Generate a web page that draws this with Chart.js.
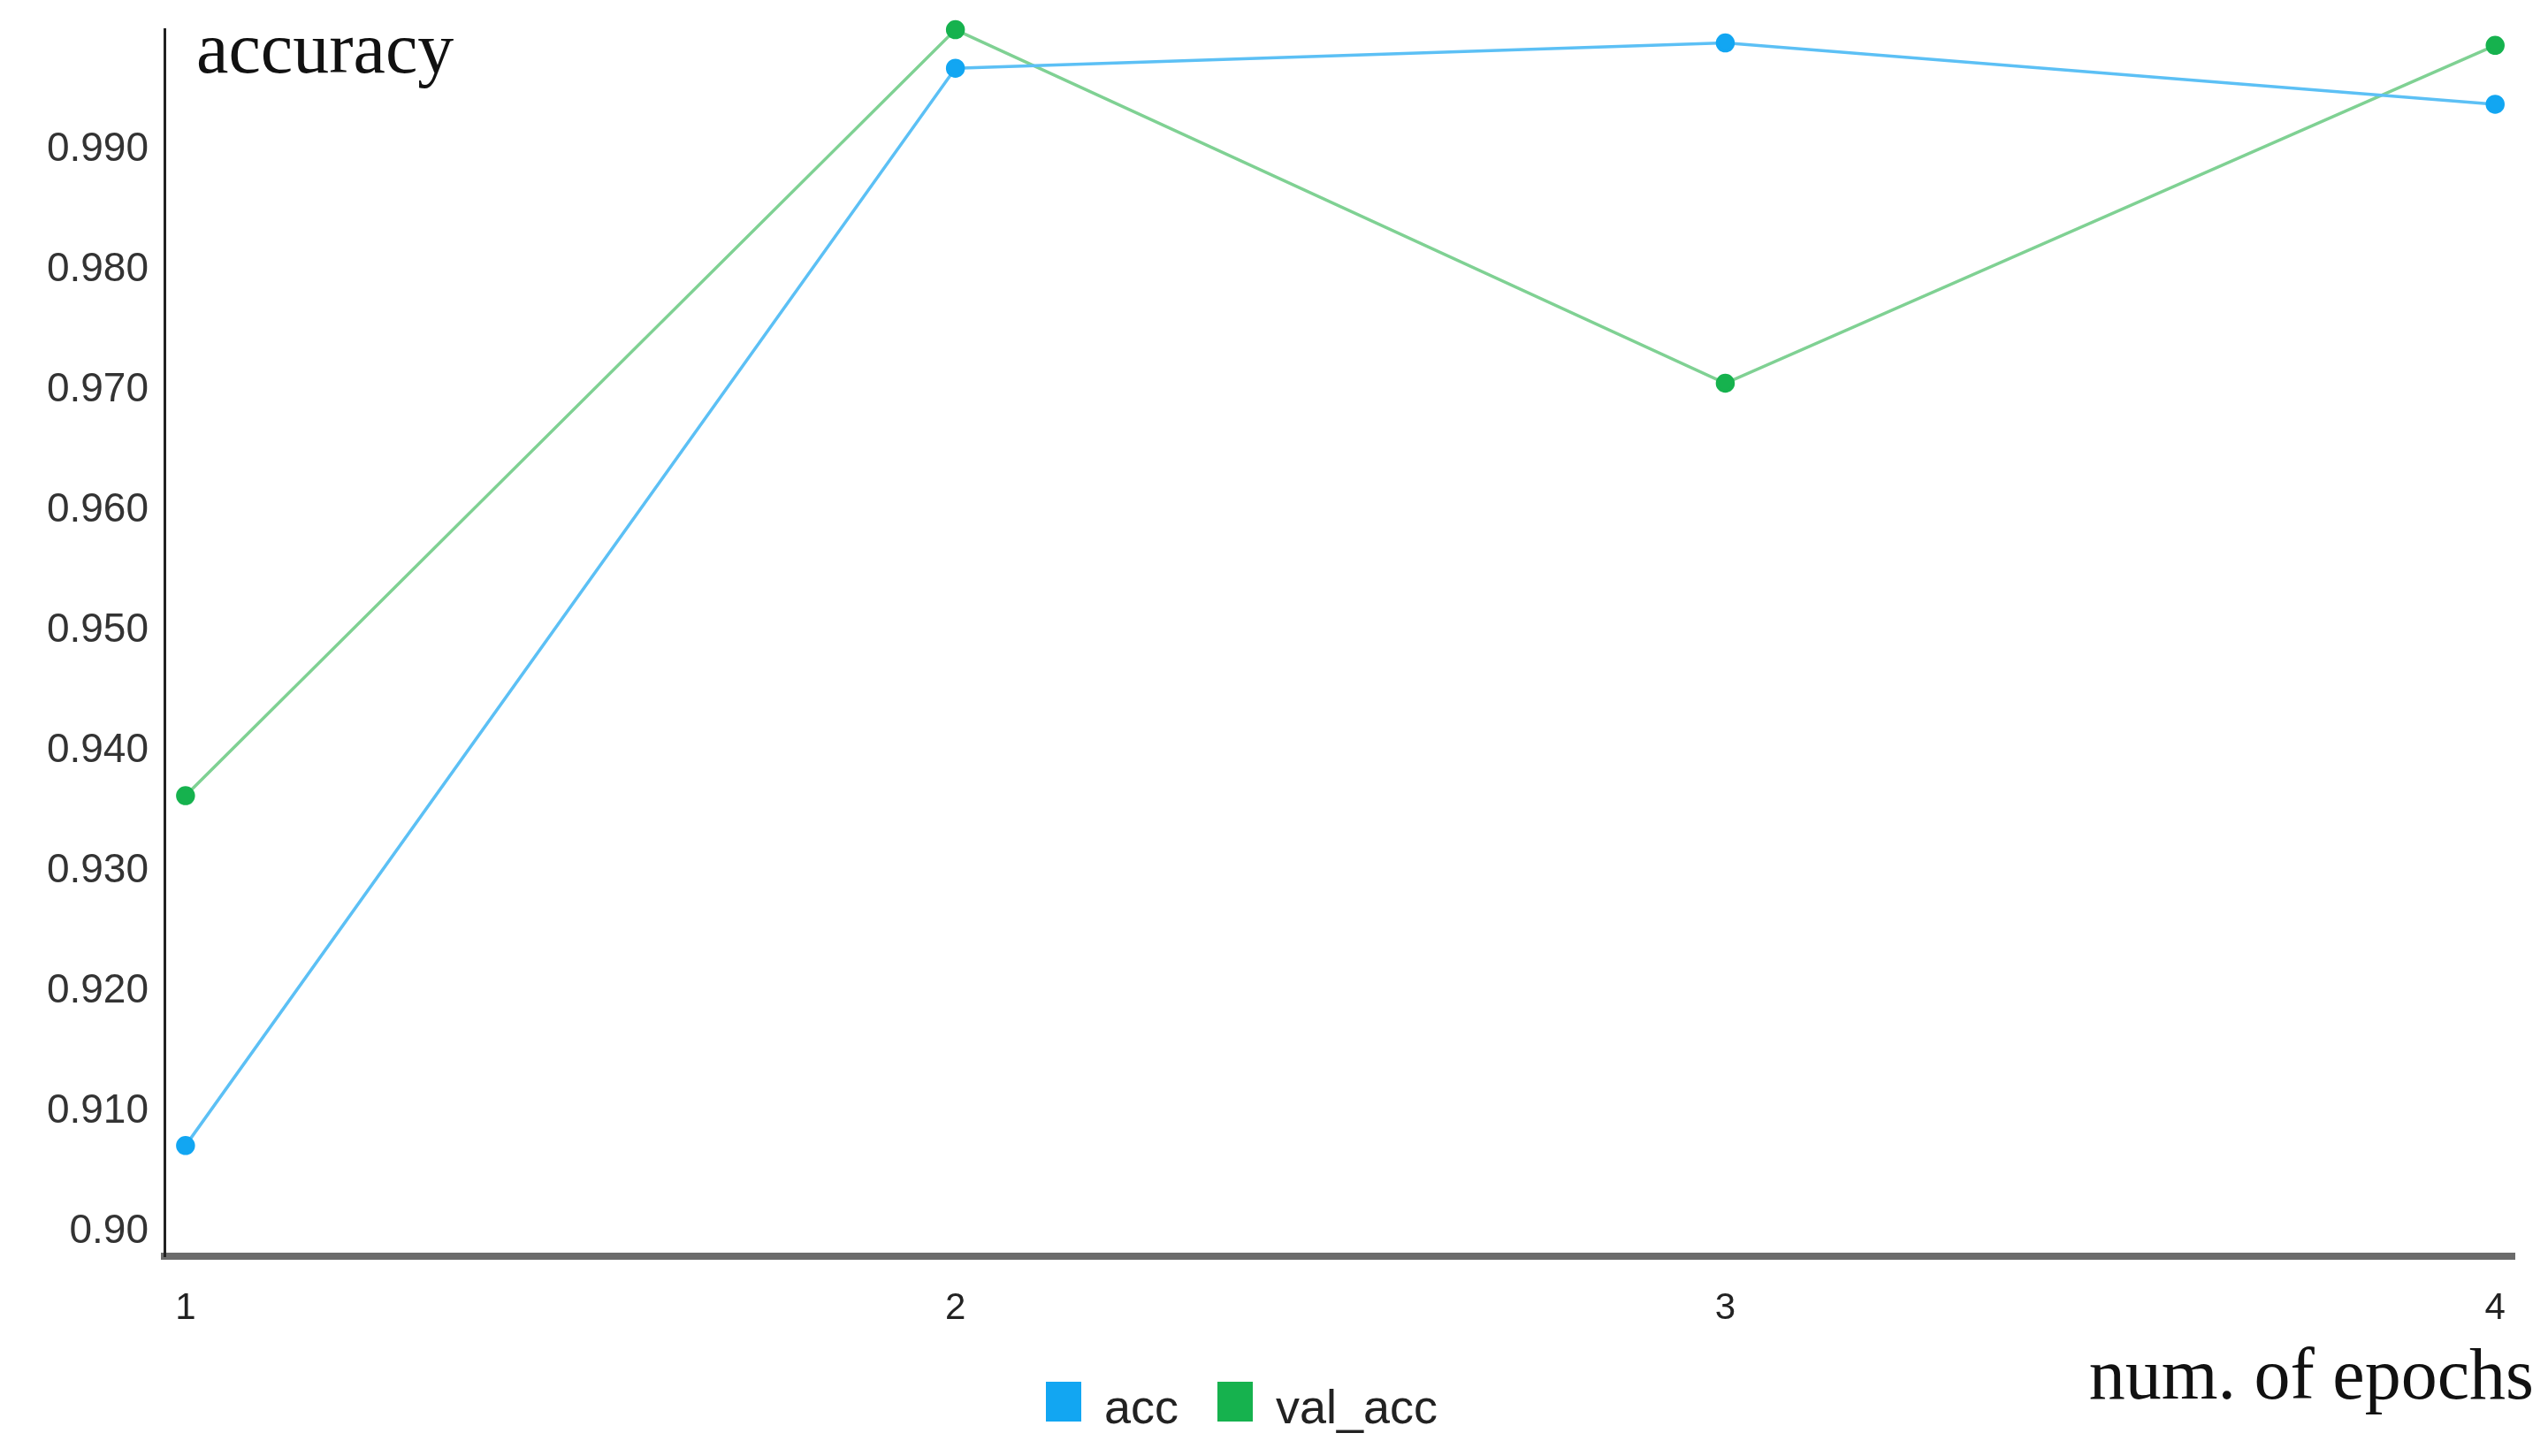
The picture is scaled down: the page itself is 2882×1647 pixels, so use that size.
<!DOCTYPE html>
<html>
<head>
<meta charset="utf-8">
<script src="https://cdn.jsdelivr.net/npm/chart.js@4/dist/chart.umd.min.js"></script>
<style>
  html, body { margin: 0; padding: 0; background: #fff; }
  #wrap { position: relative; width: 2882px; height: 1647px; }
</style>
</head>
<body>
<div id="wrap"><canvas id="c" width="2882" height="1647"></canvas></div>
<script>
const epochs = [1, 2, 3, 4];
const acc = [0.9072, 0.9968, 0.9989, 0.9938];
const valAcc = [0.9363, 1.0000, 0.9706, 0.9987];
const yTicks = [0.90, 0.91, 0.92, 0.93, 0.94, 0.95, 0.96, 0.97, 0.98, 0.99];

// draws the titles and the little legend under the plot
const extras = {
  id: 'extras',
  afterDraw(chart) {
    const ctx = chart.ctx;
    ctx.save();
    ctx.fillStyle = '#111';
    ctx.textBaseline = 'alphabetic';
    ctx.font = '82px "Liberation Serif", serif';
    ctx.textAlign = 'left';
    ctx.fillText('accuracy', 222, 82);
    ctx.textAlign = 'right';
    ctx.fillText('num. of epochs', 2866, 1582);

    const items = [
      { label: 'acc', x: 1183 },
      { label: 'val_acc', x: 1377 }
    ];
    ctx.font = '54px "Liberation Sans", sans-serif';
    ctx.textAlign = 'left';
    chart.data.datasets.forEach((ds, i) => {
      const it = items[i];
      ctx.fillStyle = ds.pointBackgroundColor;
      ctx.fillRect(it.x, 1563, 40, 45);
      ctx.fillStyle = '#222';
      ctx.fillText(ds.label, it.x + 66, 1610);
    });
    ctx.restore();
  }
};

new Chart(document.getElementById('c'), {
  type: 'line',
  data: {
    datasets: [
      {
        label: 'acc',
        data: epochs.map((e, i) => ({ x: e, y: acc[i] })),
        borderColor: '#5cc0f5',
        pointBackgroundColor: '#12a6f2',
        pointBorderColor: '#12a6f2',
        borderWidth: 3.5,
        pointRadius: 9,
        tension: 0,
        clip: false
      },
      {
        label: 'val_acc',
        data: epochs.map((e, i) => ({ x: e, y: valAcc[i] })),
        borderColor: '#7fd193',
        pointBackgroundColor: '#16b24e',
        pointBorderColor: '#16b24e',
        borderWidth: 3.5,
        pointRadius: 9,
        tension: 0,
        clip: false
      }
    ]
  },
  options: {
    responsive: false,
    animation: false,
    layout: { padding: { left: 0, top: 31, right: 38, bottom: 0 } },
    plugins: { legend: { display: false }, tooltip: { enabled: false } },
    scales: {
      x: {
        type: 'linear',
        min: 0.9726,
        max: 4.025,
        afterBuildTicks: axis => { axis.ticks = epochs.map(v => ({ value: v })); },
        afterFit: axis => { axis.height = 226; },
        grid: { display: false, drawOnChartArea: false, drawTicks: true, tickLength: 30, tickColor: '#222', tickWidth: 2 },
        border: { display: true, color: '#6b6b6b', width: 8 },
        ticks: { color: '#222', font: { size: 42, family: '"Liberation Sans", sans-serif' }, padding: 4 }
      },
      y: {
        min: 0.898,
        max: 1.0,
        afterBuildTicks: axis => { axis.ticks = yTicks.map(v => ({ value: v })); },
        afterFit: axis => { axis.width = 186; },
        grid: { display: false, drawOnChartArea: false, drawTicks: true, tickLength: 12, tickColor: '#222', tickWidth: 4 },
        border: { display: true, color: '#222', width: 3 },
        ticks: {
          color: '#333',
          font: { size: 46, family: '"Liberation Sans", sans-serif' },
          padding: 6,
          callback: v => Math.abs(v - 0.9) < 1e-9 ? '0.90' : v.toFixed(3)
        }
      }
    }
  },
  plugins: [extras]
});
</script>
</body>
</html>
